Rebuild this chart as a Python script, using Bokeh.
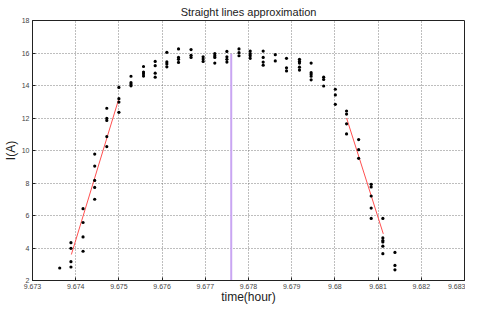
from bokeh.plotting import figure
from bokeh.models import Range1d, FixedTicker
from bokeh.embed import file_html
from bokeh.resources import INLINE

# ---- data ----
time_cols = [9.67363, 9.67389, 9.67417, 9.67444, 9.67472, 9.67500, 9.67528, 9.67557,
             9.67584, 9.67611, 9.67638, 9.67667, 9.67695, 9.67722, 9.67750, 9.67778,
             9.67804, 9.67834, 9.67862, 9.67888, 9.67918, 9.67945, 9.67974, 9.68001,
             9.68027, 9.68055, 9.68084, 9.68111, 9.68139]
current_cols = [
    [2.77],
    [4.33, 3.98, 3.16, 2.83],
    [6.42, 5.57, 4.68, 3.80],
    [9.78, 9.04, 8.16, 7.73, 7.00],
    [12.60, 11.98, 11.85, 10.86, 10.24],
    [13.88, 13.19, 12.98, 12.35],
    [14.57, 14.18, 14.08, 13.98],
    [15.17, 14.83, 14.72, 14.58],
    [15.48, 15.22, 14.76, 14.51],
    [16.04, 15.45, 15.33, 15.15],
    [16.25, 15.73, 15.61, 15.42],
    [16.21, 15.86, 15.73],
    [15.77, 15.63, 15.48],
    [15.96, 15.83, 15.73, 15.38],
    [16.10, 15.77, 15.61, 15.44],
    [16.25, 16.02, 15.83],
    [16.12, 15.96, 15.83, 15.67],
    [16.12, 15.73, 15.44, 15.25],
    [15.90, 15.51],
    [15.67, 15.09, 14.90],
    [15.61, 15.48, 15.38, 15.13, 14.95],
    [15.38, 14.80, 14.70, 14.57, 14.35],
    [14.51, 14.37, 13.97],
    [13.77, 13.42, 12.84],
    [12.43, 12.24, 11.64, 11.02],
    [10.67, 10.05, 9.52],
    [7.92, 7.76, 7.20, 6.46, 5.82],
    [5.82, 4.62, 4.46, 4.37, 4.11, 3.65],
    [3.73, 2.93, 2.66],
]

left_fit_t = [9.6739, 9.6750]
left_fit_i = [3.6, 13.2]
right_fit_t = [9.68027, 9.68112]
right_fit_i = [12.0, 4.87]

marker_t = [9.6776, 9.6776]
marker_i = [2.0, 15.95]

x_ticks = [9.673, 9.674, 9.675, 9.676, 9.677, 9.678, 9.679, 9.680, 9.681, 9.682, 9.683]
x_tick_labels = ["9.673", "9.674", "9.675", "9.676", "9.677", "9.678", "9.679",
                 "9.68", "9.681", "9.682", "9.683"]
y_ticks = [2, 4, 6, 8, 10, 12, 14, 16, 18]

title_text = "Straight lines approximation"
x_label = "time(hour)"
y_label = "I(A)"

# flatten points
pts_t = []
pts_i = []
for t, vals in zip(time_cols, current_cols):
    for v in vals:
        pts_t.append(t)
        pts_i.append(v)

p = figure(width=465, height=306, output_backend="svg", toolbar_location=None,
           x_range=Range1d(9.673, 9.683), y_range=Range1d(2, 18),
           min_border_left=32, min_border_right=1, min_border_top=0, min_border_bottom=0)
p.background_fill_color = "white"
p.border_fill_color = "white"
p.outline_line_color = "#222222"
p.outline_line_width = 1

p.title.text = title_text
p.title.align = "center"
p.title.text_font = "Liberation Sans"
p.title.text_font_size = "11px"
p.title.text_font_style = "normal"
p.title.text_color = "#222222"
p.title.standoff = 6

p.xaxis.ticker = FixedTicker(ticks=x_ticks)
p.yaxis.ticker = FixedTicker(ticks=y_ticks)
p.xaxis.major_label_overrides = {t: l for t, l in zip(x_ticks, x_tick_labels)}
p.xaxis.axis_label = x_label
p.yaxis.axis_label = y_label
for ax in (p.xaxis, p.yaxis):
    ax.major_tick_in = 3
    ax.major_tick_out = 0
    ax.minor_tick_line_color = None
    ax.axis_line_color = "#222222"
    ax.major_tick_line_color = "#222222"
    ax.major_label_text_font = "Liberation Sans"
    ax.major_label_text_font_size = "7px"
    ax.major_label_text_color = "#444444"
    ax.major_label_standoff = 3
    ax.axis_label_text_font = "Liberation Sans"
    ax.axis_label_text_font_size = "12px"
    ax.axis_label_text_font_style = "normal"
    ax.axis_label_text_color = "#222222"
    ax.axis_label_standoff = 1
p.xaxis.major_label_standoff = 3
p.xaxis.axis_label_standoff = -2

for g in (p.xgrid, p.ygrid):
    g.grid_line_color = "#707070"
    g.grid_line_dash = "1 2"
    g.grid_line_alpha = 0.9
p.xgrid.ticker = FixedTicker(ticks=x_ticks)
p.ygrid.ticker = FixedTicker(ticks=y_ticks)

p.line(marker_t, marker_i, line_color="#c9a6f2", line_width=2)
p.line(left_fit_t, left_fit_i, line_color="#ff5050", line_width=1)
p.line(right_fit_t, right_fit_i, line_color="#ff5050", line_width=1)
p.scatter(pts_t, pts_i, marker="circle", size=3.2, fill_color="black", line_color=None)

open("out.html", "w").write(file_html(p, INLINE))
